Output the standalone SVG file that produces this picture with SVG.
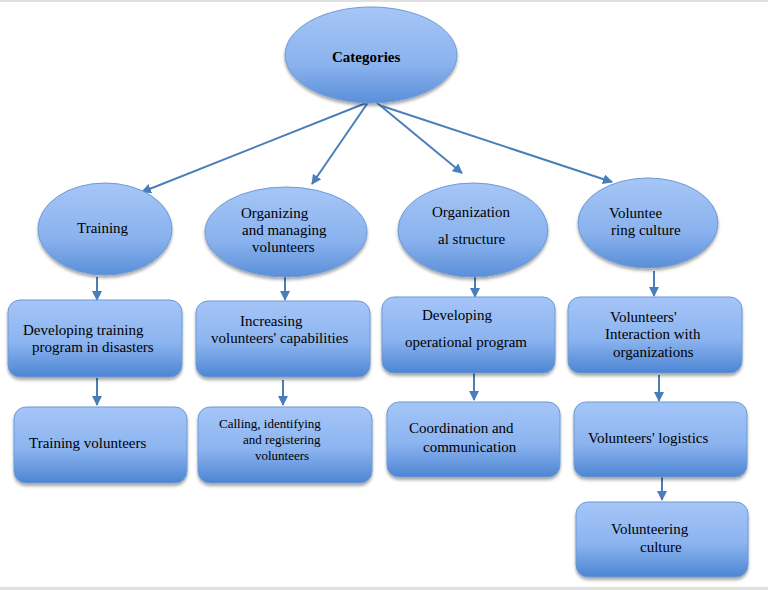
<svg xmlns="http://www.w3.org/2000/svg" width="768" height="590" viewBox="0 0 768 590">
<style>
.t{font-family:"Liberation Serif","Times New Roman",serif;font-size:15px;fill:#000}
.s{font-size:13px}
.b{font-weight:bold}
.n{stroke:#6b9bd8;stroke-width:1;filter:url(#sh)}
.e{fill:url(#ge)}
.r{fill:url(#gr)}
.c{stroke:#4a7ebb;stroke-width:2;fill:none;marker-end:url(#ah)}
</style>
<defs>
<linearGradient id="ge" x1="0" y1="0" x2="0" y2="1">
<stop offset="0" stop-color="#a6c6f6"/>
<stop offset="0.6" stop-color="#8ab2ee"/>
<stop offset="1" stop-color="#5a8fd8"/>
</linearGradient>
<linearGradient id="gr" x1="0" y1="0" x2="0" y2="1">
<stop offset="0" stop-color="#a5c5f7"/>
<stop offset="0.55" stop-color="#8cb4f0"/>
<stop offset="1" stop-color="#4d85d2"/>
</linearGradient>
<filter id="sh" x="-10%" y="-10%" width="120%" height="130%">
<feDropShadow dx="0" dy="2.5" stdDeviation="1.5" flood-color="#000" flood-opacity="0.35"/>
</filter>
<marker id="ah" viewBox="0 0 10 10" refX="9" refY="5" markerWidth="5" markerHeight="5" orient="auto" markerUnits="strokeWidth">
<path d="M0,0 L10,5 L0,10 z" fill="#4a7ebb"/>
</marker>
</defs>
<rect x="0" y="0" width="768" height="590" fill="#fff"/>
<rect x="0" y="0" width="768" height="2" fill="#e0e0e0"/>
<rect x="0" y="587" width="768" height="3" fill="#e0e0e0"/>
<g id="connectors">
<line class="c" x1="366" y1="103" x2="142" y2="192"/>
<line class="c" x1="369" y1="101" x2="312" y2="184"/>
<line class="c" x1="376" y1="102" x2="462" y2="173"/>
<line class="c" x1="382" y1="106" x2="612" y2="182"/>
<line class="c" x1="97" y1="277" x2="97" y2="300"/>
<line class="c" x1="97" y1="378" x2="97" y2="405"/>
<line class="c" x1="285" y1="277" x2="285" y2="300"/>
<line class="c" x1="283" y1="380" x2="283" y2="405"/>
<line class="c" x1="475" y1="277" x2="475" y2="297"/>
<line class="c" x1="474" y1="373" x2="474" y2="400"/>
<line class="c" x1="654" y1="271" x2="654" y2="296"/>
<line class="c" x1="659" y1="375" x2="659" y2="401"/>
<line class="c" x1="662" y1="477" x2="662" y2="500"/>
</g>
<g id="categories"><ellipse class="n e" cx="371" cy="55" rx="86" ry="48"/><text class="t b" x="332" y="62">Categories</text></g>
<g id="training"><ellipse class="n e" cx="105" cy="229" rx="67" ry="46"/><text class="t" x="77" y="233">Training</text></g>
<g id="organizing"><ellipse class="n e" cx="286" cy="232" rx="81" ry="45"/><text class="t" x="241" y="218">Organizing</text><text class="t" x="242" y="235">and managing</text><text class="t" x="252" y="252">volunteers</text></g>
<g id="orgstructure"><ellipse class="n e" cx="473" cy="230" rx="75" ry="47"/><text class="t" x="432" y="217">Organization</text><text class="t" x="438" y="244">al structure</text></g>
<g id="volculture"><ellipse class="n e" cx="648" cy="223" rx="70" ry="45"/><text class="t" x="609" y="218">Voluntee</text><text class="t" x="611" y="235">ring culture</text></g>
<g id="devtraining"><rect class="n r" x="8" y="300" width="174" height="77" rx="12"/><text class="t" x="23" y="335">Developing training</text><text class="t" x="32" y="352">program in disasters</text></g>
<g id="trainvol"><rect class="n r" x="14" y="407" width="173" height="76" rx="12"/><text class="t" x="29" y="448">Training volunteers</text></g>
<g id="increasing"><rect class="n r" x="196" y="301" width="174" height="76" rx="12"/><text class="t" x="240" y="326">Increasing</text><text class="t" x="211" y="343">volunteers' capabilities</text></g>
<g id="calling"><rect class="n r" x="198" y="407" width="174" height="76" rx="12"/><text class="t s" x="219" y="428">Calling, identifying</text><text class="t s" x="243" y="444">and registering</text><text class="t s" x="255" y="460">volunteers</text></g>
<g id="devoperational"><rect class="n r" x="382" y="297" width="173" height="76" rx="12"/><text class="t" x="422" y="320">Developing</text><text class="t" x="405" y="347">operational program</text></g>
<g id="coordination"><rect class="n r" x="387" y="402" width="173" height="75" rx="12"/><text class="t" x="409" y="433">Coordination and</text><text class="t" x="423" y="452">communication</text></g>
<g id="interaction"><rect class="n r" x="568" y="297" width="174" height="76" rx="12"/><text class="t" x="610" y="322">Volunteers'</text><text class="t" x="605" y="339">Interaction with</text><text class="t" x="613" y="357">organizations</text></g>
<g id="logistics"><rect class="n r" x="574" y="402" width="173" height="75" rx="12"/><text class="t" x="588" y="443">Volunteers' logistics</text></g>
<g id="volunteering"><rect class="n r" x="576" y="502" width="172" height="75" rx="12"/><text class="t" x="611" y="534">Volunteering</text><text class="t" x="640" y="552">culture</text></g>
</svg>
